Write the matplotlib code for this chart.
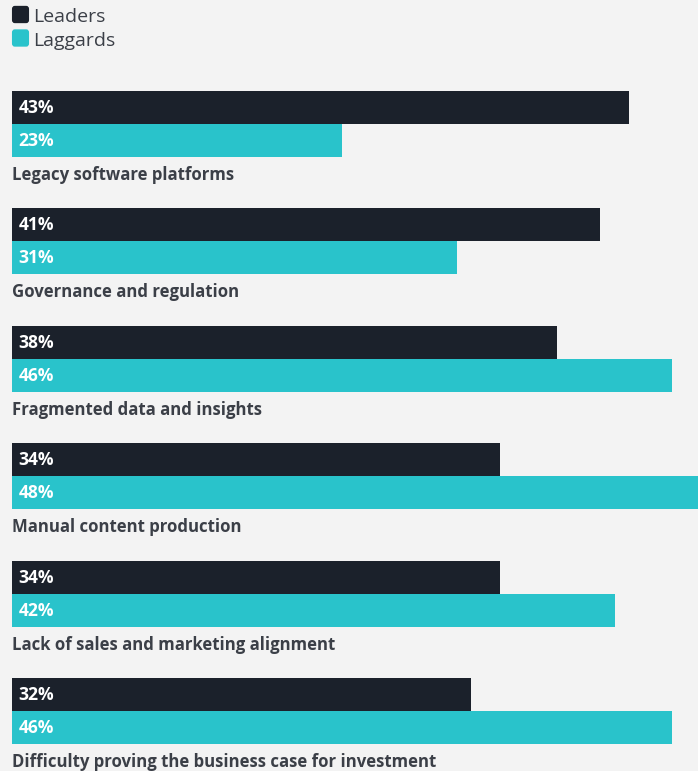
import matplotlib
matplotlib.use("Agg")
import matplotlib.pyplot as plt
from matplotlib.patches import FancyBboxPatch

categories = [
    "Legacy software platforms",
    "Governance and regulation",
    "Fragmented data and insights",
    "Manual content production",
    "Lack of sales and marketing alignment",
    "Difficulty proving the business case for investment",
]
leaders = [43, 41, 38, 34, 34, 32]
laggards = [23, 31, 46, 48, 42, 46]
series_names = ["Leaders", "Laggards"]

BG = "#f3f3f3"
DARK = "#1b212b"
TEAL = "#29c3cb"
TEXT = "#3b3f47"
FONT = "Open Sans"

W, H = 698, 771
fig = plt.figure(figsize=(W / 100, H / 100), dpi=100, facecolor=BG)
ax = fig.add_axes([0, 0, 1, 1], facecolor=BG)

# horizontal scale: value axis starts 12 px from the left edge, 14.35 px per percent
px_per = 14.35
x0 = 12
ax.set_xlim(-x0 / px_per, (W - x0) / px_per)
ax.set_ylim(H, 0)
ax.axis("off")

first_top = 91
step = 117.4
bar_h = 33

for i, cat in enumerate(categories):
    top = first_top + i * step
    for j, (vals, col) in enumerate(((leaders, DARK), (laggards, TEAL))):
        y = top + j * bar_h
        ax.barh(y, vals[i], height=bar_h, left=0, align="edge", color=col,
                linewidth=0)
        ax.text(0.45, y + bar_h / 2 + 0.5, f"{vals[i]}%", color="white",
                fontsize=12.6, fontweight="bold", family=FONT,
                va="center", ha="left")
    ax.text(0, top + 2 * bar_h + 18, cat, color=TEXT, fontsize=12.1,
            fontweight="bold", family=FONT, va="center", ha="left")

# legend
for k, (name, col) in enumerate(zip(series_names, (DARK, TEAL))):
    cy = 14.5 + k * 23.5
    box = FancyBboxPatch((13 / W, 1 - (cy + 7.5) / H), 15 / W, 15 / H,
                         boxstyle="round,pad=0.0015,rounding_size=0.004",
                         transform=fig.transFigure, facecolor=col,
                         edgecolor="none")
    fig.patches.append(box)
    fig.text(33 / W, 1 - (cy + 2.5) / H, name, color=TEXT, fontsize=14,
             family=FONT, va="center", ha="left")

fig.savefig("out.png", dpi=100, facecolor=BG)
